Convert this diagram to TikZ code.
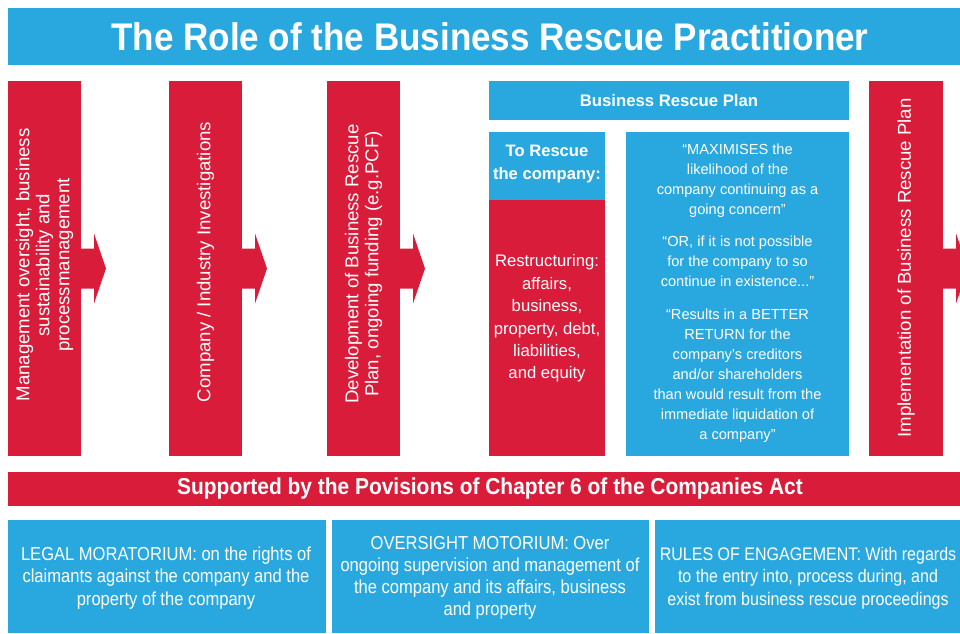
\documentclass[tikz,border=0pt]{standalone}
\usepackage{fontspec}
\setmainfont{Liberation Sans}
\newfontfamily\condfont[FakeStretch=0.88]{Liberation Sans}
\newfontfamily\titlefont[FakeStretch=0.91]{Liberation Sans}
\usetikzlibrary{calc}
\definecolor{brblue}{RGB}{41,168,224}
\definecolor{brred}{RGB}{216,28,58}
\newcommand{\brarrow}[1]{\fill[brred] ($(#1.east)+(-1,-20)$) -- ++(14,0) -- ++(0,-15) -- ++(12,35) -- ++(-12,35) -- ++(0,-15) -- ++(-14,0) -- cycle;}
\tikzset{
  box/.style={inner sep=0pt, outer sep=0pt, draw=none},
  bluebox/.style={box, fill=brblue},
  redbox/.style={box, fill=brred},
  coltext/.style={rotate=90, align=center, text=white, inner sep=0pt, font=\fontsize{18.6}{20}\selectfont},
  whitetext/.style={align=center, text=white, inner sep=0pt},
}
\begin{document}
\begin{tikzpicture}[x=1pt,y=-1pt]
\useasboundingbox (0,0) rectangle (960,633);
\fill[white] (0,0) rectangle (960,633);
\begin{scope}
\clip (0,0) rectangle (960,633);
% title
\node[bluebox, minimum width=952pt, minimum height=57pt] (title) at (484,36.5) {};
\node[whitetext, font=\titlefont\bfseries\fontsize{38.5}{40}\selectfont] (titletext) at (490,37) {The Role of the Business Rescue Practitioner};
% columns
\node[redbox, minimum width=73pt, minimum height=375pt] (b1) at (44.5,268.5) {};
\node[redbox, minimum width=73pt, minimum height=375pt] (b2) at (205.5,268.5) {};
\node[redbox, minimum width=73pt, minimum height=375pt] (b3) at (363.5,268.5) {};
\node[redbox, minimum width=74pt, minimum height=375pt] (b4) at (906,268.5) {};
\brarrow{b1}
\brarrow{b2}
\brarrow{b3}
\brarrow{b4}
\node[coltext] (t1) at (44.5,265) {Management oversight, business\\sustainability and\\processmanagement};
\node[coltext] (t2) at (205.5,262) {Company / Industry Investigations};
\node[coltext] (t3) at (363.5,264) {Development of Business Rescue\\Plan, ongoing funding (e.g.PCF)};
\node[coltext] (t4) at (906,268) {Implementation of Business Rescue Plan};
% business rescue plan
\node[bluebox, minimum width=360pt, minimum height=39pt] (brp) at (669,100.5) {};
\node[whitetext, font=\bfseries\fontsize{16.7}{20}\selectfont] (brptext) at (brp.center) {Business Rescue Plan};
\node[bluebox, minimum width=116pt, minimum height=68pt] (resc) at (547,166) {};
\node[whitetext, font=\bfseries\fontsize{16.6}{23}\selectfont] (resctext) at (547,164) {To Rescue\\the company:};
\node[redbox, minimum width=116pt, minimum height=256pt] (restr) at (547,328) {};
\node[whitetext, font=\fontsize{16.7}{22.4}\selectfont] (restrtext) at (547,318.5) {Restructuring:\\affairs,\\business,\\property, debt,\\liabilities,\\and equity};
\node[bluebox, minimum width=223pt, minimum height=324pt] (quote) at (737.5,294) {};
\node[whitetext, font=\fontsize{14.6}{20}\selectfont] (quotetext) at (737.5,293) {“MAXIMISES the\\likelihood of the\\company continuing as a\\going concern”\\[12.7pt]“OR, if it is not possible\\for the company to so\\continue in existence...”\\[12.7pt]“Results in a BETTER\\RETURN for the\\company’s creditors\\and/or shareholders\\than would result from the\\immediate liquidation of\\a company”};
% supported bar
\node[redbox, minimum width=952pt, minimum height=34pt] (supp) at (484,489) {};
\node[whitetext, font=\titlefont\bfseries\fontsize{23}{25}\selectfont] (supptext) at (490,489) {Supported by the Povisions of Chapter 6 of the Companies Act};
% bottom boxes
\node[bluebox, minimum width=318pt, minimum height=113pt] (p1) at (167,576.5) {};
\node[bluebox, minimum width=317pt, minimum height=113pt] (p2) at (490.5,576.5) {};
\node[bluebox, minimum width=310pt, minimum height=113pt] (p3) at (810,576.5) {};
\node[whitetext, font=\condfont\fontsize{18.8}{22.5}\selectfont] (p1text) at (166,578) {LEGAL MORATORIUM: on the rights of\\claimants against the company and the\\property of the company};
\node[whitetext, font=\condfont\fontsize{18.8}{22}\selectfont] (p2text) at (490,577.5) {OVERSIGHT MOTORIUM: Over\\ongoing supervision and management of\\the company and its affairs, business\\and property};
\node[whitetext, font=\condfont\fontsize{18.2}{22.5}\selectfont] (p3text) at (808,578) {RULES OF ENGAGEMENT: With regards\\to the entry into, process during, and\\exist from business rescue proceedings};
\end{scope}
\end{tikzpicture}
\end{document}
